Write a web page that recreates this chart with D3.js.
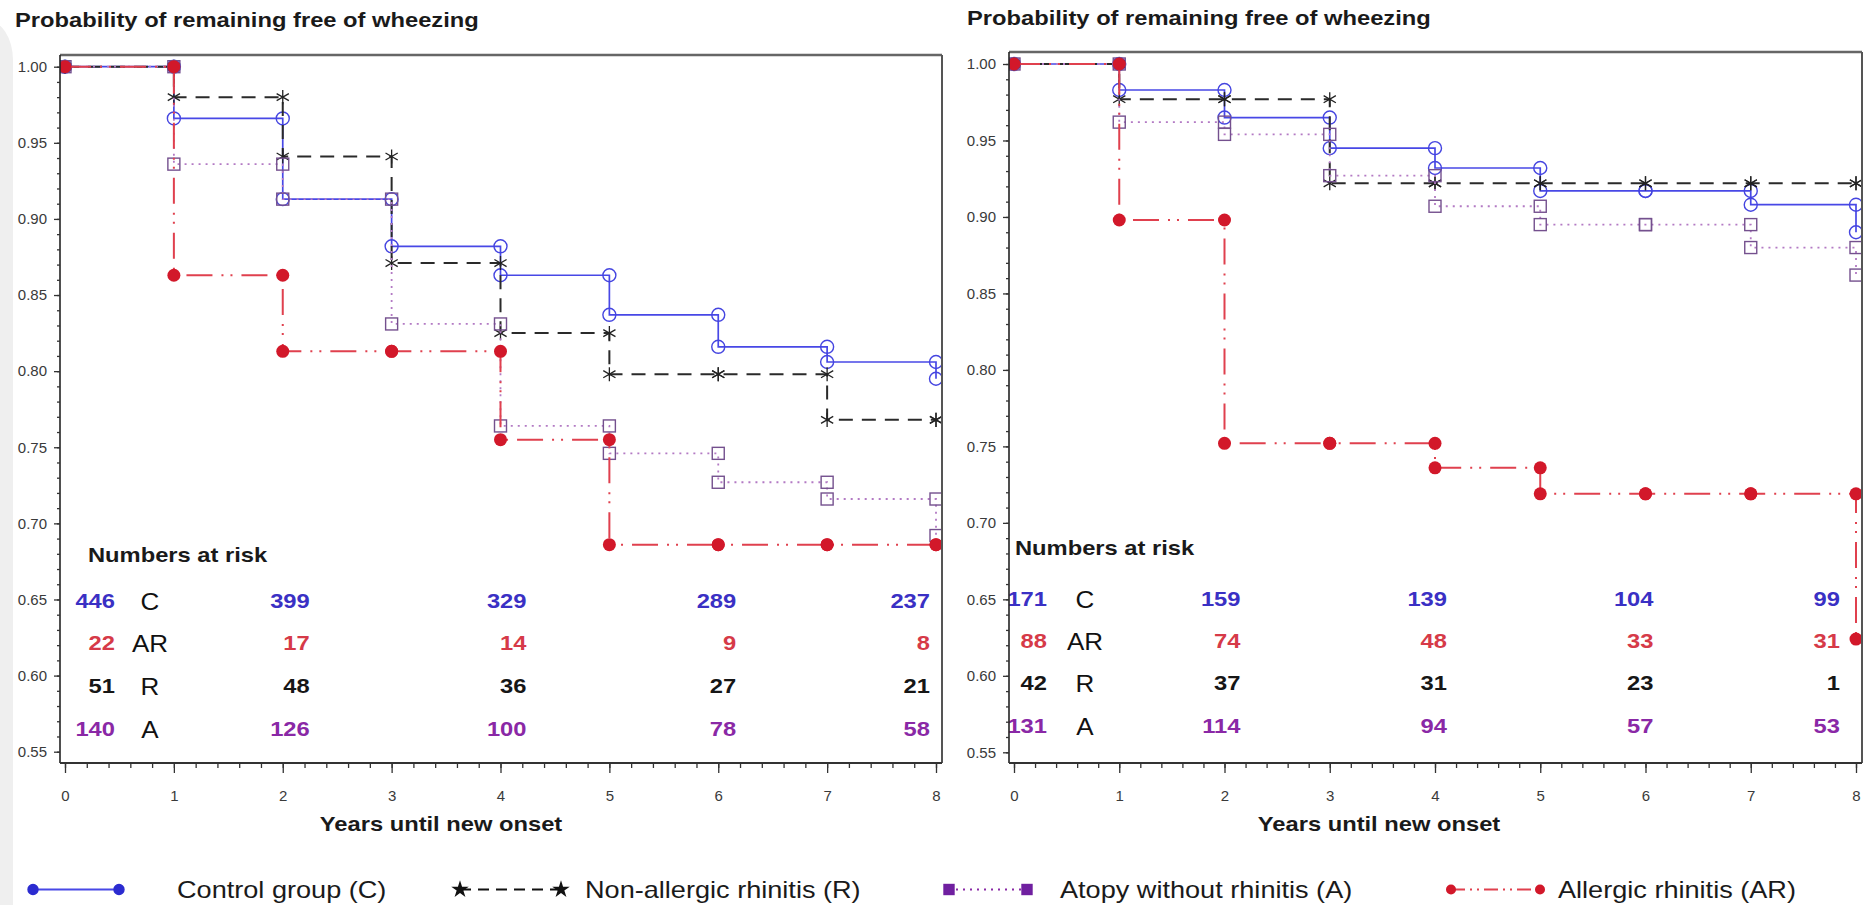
<!DOCTYPE html>
<html>
<head>
<meta charset="utf-8">
<script src="https://cdn.jsdelivr.net/npm/d3@7"></script>
<style>
  html, body { margin: 0; padding: 0; background: #fff; }
  svg { display: block; font-family: "Liberation Sans", Arial, sans-serif; }
</style>
</head>
<body>
<svg id="chart" width="1872" height="905"></svg>
<script>
// ---- data ----
const years = [0, 1, 2, 3, 4, 5, 6, 7, 8];
const yTicks = [0.55, 0.60, 0.65, 0.70, 0.75, 0.80, 0.85, 0.90, 0.95, 1.00];

// survival level on [t, t+1), last value = level after the drop at year 8
const leftC  = [1.000, 0.966, 0.913, 0.882, 0.863, 0.837, 0.816, 0.806, 0.795];
const leftR  = [1.000, 0.980, 0.941, 0.871, 0.825, 0.798, 0.798, 0.768, 0.768];
const leftA  = [1.000, 0.936, 0.913, 0.831, 0.764, 0.746, 0.727, 0.716, 0.692];
const leftAR = [1.000, 0.863, 0.813, 0.813, 0.755, 0.686, 0.686, 0.686, 0.686];

const rightC  = [1.000, 0.983, 0.965, 0.945, 0.932, 0.917, 0.917, 0.908, 0.890];
const rightR  = [1.000, 0.977, 0.977, 0.922, 0.922, 0.922, 0.922, 0.922, 0.922];
const rightA  = [1.000, 0.962, 0.954, 0.927, 0.907, 0.895, 0.895, 0.880, 0.862];
const rightAR = [1.000, 0.898, 0.752, 0.752, 0.736, 0.719, 0.719, 0.719, 0.624];

// numbers at risk (years 0, 2, 4, 6, 8)
const riskYears = [0, 2, 4, 6, 8];
const riskRows = ["C", "AR", "R", "A"];
const leftRiskC  = [446, 399, 329, 289, 237];
const leftRiskAR = [22, 17, 14, 9, 8];
const leftRiskR  = [51, 48, 36, 27, 21];
const leftRiskA  = [140, 126, 100, 78, 58];
const rightRiskC  = [171, 159, 139, 104, 99];
const rightRiskAR = [88, 74, 48, 33, 31];
const rightRiskR  = [42, 37, 31, 23, 1];
const rightRiskA  = [131, 114, 94, 57, 53];

const legendLabels = ["Control group (C)", "Non-allergic rhinitis (R)", "Atopy without rhinitis (A)", "Allergic rhinitis (AR)"];

// ---- styles ----
const style = {
  C:  { line: "#4848e6", dash: null, width: 1.7, marker: "circle", mark: "#4545e0", text: "#3a30c4" },
  R:  { line: "#2a2a2a", dash: "14 9", width: 2, marker: "asterisk", mark: "#222", text: "#161616" },
  A:  { line: "#b37ac4", dash: "2 5", width: 1.8, marker: "square", mark: "#74508e", text: "#8a28a6" },
  AR: { line: "#e0404e", dash: "26 9 2 7 2 9", width: 2, marker: "dot", mark: "#d2182a", text: "#d63a48" }
};
const drawOrder = ["C", "R", "A", "AR"];
const SX = 1.13; // the source type is a little wider than Liberation Sans

const panels = [
  {
    id: "left", x0: 65, x8: 936, yTop: 66.7, yBot: 751.7,
    frame: { l: 60, r: 942, t: 55, b: 763 },
    series: { C: leftC, R: leftR, A: leftA, AR: leftAR },
    risk: { C: leftRiskC, AR: leftRiskAR, R: leftRiskR, A: leftRiskA },
    riskOffset: [50, 27, 26, 18, -6], rowY: [608, 650, 693, 736], letterX: 150,
    riskTitle: [88, 562], title: [15, 27], xTitleX: 441
  },
  {
    id: "right", x0: 1014, x8: 1856, yTop: 64, yBot: 752.3,
    frame: { l: 1009, r: 1862, t: 52, b: 763 },
    series: { C: rightC, R: rightR, A: rightA, AR: rightAR },
    risk: { C: rightRiskC, AR: rightRiskAR, R: rightRiskR, A: rightRiskA },
    riskOffset: [33, 16, 12, 8, -16], rowY: [606, 648, 690, 733], letterX: 1085,
    riskTitle: [1015, 555], title: [967, 25], xTitleX: 1379
  }
];

const svg = d3.select("#chart");

function stretchText(g, x, y, str, o) {
  return g.append("text")
    .attr("transform", `translate(${x},${y}) scale(${SX},1)`)
    .attr("text-anchor", o.anchor || "start")
    .attr("font-size", o.size)
    .attr("font-weight", o.weight || "normal")
    .attr("fill", o.fill || "#111")
    .text(str);
}

function drawMarker(g, kind, cx, cy, s, filled) {
  if (kind === "circle") {
    g.append("circle").attr("cx", cx).attr("cy", cy).attr("r", filled ? 5 : 6.5)
      .attr("fill", filled ? s.mark : "none").attr("stroke", s.mark).attr("stroke-width", 1.4);
  } else if (kind === "square") {
    const h = filled ? 5 : 6;
    g.append("rect").attr("x", cx - h).attr("y", cy - h).attr("width", 2 * h).attr("height", 2 * h)
      .attr("fill", filled ? "#7020a0" : "none").attr("stroke", filled ? "#7020a0" : s.mark).attr("stroke-width", 1.4);
  } else if (kind === "asterisk") {
    g.append("path").attr("transform", `translate(${cx},${cy})`)
      .attr("d", d3.symbol(d3.symbolAsterisk, 140)())
      .attr("fill", "none").attr("stroke", s.mark).attr("stroke-width", 1.3);
  } else if (kind === "star") {
    g.append("path").attr("transform", `translate(${cx},${cy})`)
      .attr("d", d3.symbol(d3.symbolStar, 95)())
      .attr("fill", "#111");
  } else {
    g.append("circle").attr("cx", cx).attr("cy", cy).attr("r", filled ? 5 : 6.5)
      .attr("fill", s.mark);
  }
}

// grey page edge at the far left
svg.append("rect").attr("x", -40).attr("y", 20).attr("width", 53).attr("height", 1000)
  .attr("rx", 40).attr("fill", "#efefef");

panels.forEach(p => {
  const x = d3.scaleLinear().domain([0, 8]).range([p.x0, p.x8]);
  const y = d3.scaleLinear().domain([0.55, 1]).range([p.yBot, p.yTop]);
  const f = p.frame;
  const g = svg.append("g");

  g.append("rect").attr("x", f.l).attr("y", f.t).attr("width", f.r - f.l).attr("height", f.b - f.t).attr("fill", "#fff");

  const clipId = "clip-" + p.id;
  svg.append("clipPath").attr("id", clipId)
    .append("rect").attr("x", f.l).attr("y", f.t).attr("width", f.r - f.l).attr("height", f.b - f.t);

  // title
  stretchText(g, p.title[0], p.title[1], "Probability of remaining free of wheezing", { size: 21, weight: "bold", fill: "#1a1a1a" });

  // numbers at risk
  stretchText(g, p.riskTitle[0], p.riskTitle[1], "Numbers at risk", { size: 21, weight: "bold", fill: "#1a1a1a" });
  riskRows.forEach((k, r) => {
    stretchText(g, p.letterX, p.rowY[r] + 2, k, { size: 23, anchor: "middle", fill: "#111" });
    p.risk[k].forEach((n, j) => {
      stretchText(g, x(riskYears[j]) + p.riskOffset[j], p.rowY[r], n, { size: 21, weight: "bold", anchor: "end", fill: style[k].text });
    });
  });

  // curves
  const plot = g.append("g").attr("clip-path", `url(#${clipId})`);
  const line = d3.line().x(d => x(d[0])).y(d => y(d[1])).curve(d3.curveStepAfter);
  drawOrder.forEach(k => {
    const s = style[k];
    const vals = p.series[k];
    const pts = years.map((t, i) => [t, vals[i]]);
    plot.append("path").attr("d", line(pts))
      .attr("fill", "none").attr("stroke", s.line).attr("stroke-width", s.width)
      .attr("stroke-dasharray", s.dash);
    const marks = [];
    years.forEach((t, i) => {
      marks.push([t, vals[i]]);
      if (i < years.length - 1) marks.push([t + 1, vals[i]]);
    });
    marks.forEach(m => drawMarker(plot, s.marker, x(m[0]), y(m[1]), s, false));
  });

  // frame
  g.append("line").attr("x1", f.l).attr("x2", f.r).attr("y1", f.t).attr("y2", f.t).attr("stroke", "#666").attr("stroke-width", 2.5);
  g.append("line").attr("x1", f.r).attr("x2", f.r).attr("y1", f.t).attr("y2", f.b).attr("stroke", "#555").attr("stroke-width", 2);
  g.append("line").attr("x1", f.l).attr("x2", f.l).attr("y1", f.t).attr("y2", f.b).attr("stroke", "#222").attr("stroke-width", 1.6);
  g.append("line").attr("x1", f.l).attr("x2", f.r).attr("y1", f.b).attr("y2", f.b).attr("stroke", "#333").attr("stroke-width", 2);

  // y axis
  const yMinor = g.append("g").attr("transform", `translate(${f.l},0)`)
    .call(d3.axisLeft(y).tickValues(d3.range(55, 101).map(v => v / 100)).tickSize(3).tickFormat(""));
  const yMajor = g.append("g").attr("transform", `translate(${f.l},0)`)
    .call(d3.axisLeft(y).tickValues(yTicks).tickSize(6).tickPadding(7).tickFormat(d3.format(".2f")));
  // x axis
  const xMinor = g.append("g").attr("transform", `translate(0,${f.b})`)
    .call(d3.axisBottom(x).tickValues(d3.range(0, 41).map(v => v / 5)).tickSize(5).tickFormat(""));
  const xMajor = g.append("g").attr("transform", `translate(0,${f.b})`)
    .call(d3.axisBottom(x).tickValues(years).tickSize(10).tickPadding(17).tickFormat(d3.format("d")));
  [yMinor, yMajor, xMinor, xMajor].forEach(a => {
    a.select(".domain").remove();
    a.selectAll("line").attr("stroke", "#333").attr("stroke-width", 1.3);
    a.selectAll("text").attr("font-size", 15).attr("fill", "#3a3a3a")
      .attr("font-family", "'Liberation Sans', Arial, sans-serif");
  });

  stretchText(g, p.xTitleX, 831, "Years until new onset", { size: 21, weight: "bold", anchor: "middle", fill: "#1a1a1a" });
});

// legend
const legendItems = [
  { key: "C",  x1: 33,   x2: 119,  tx: 177,  marker: "circle" },
  { key: "R",  x1: 460,  x2: 561,  tx: 585,  marker: "star" },
  { key: "A",  x1: 949,  x2: 1027, tx: 1060, marker: "square" },
  { key: "AR", x1: 1451, x2: 1540, tx: 1558, marker: "dot" }
];
const lg = svg.append("g");
const ly = 889.5;
legendItems.forEach((it, i) => {
  const s = style[it.key];
  const legStyle = Object.assign({}, s, { mark: it.key === "C" ? "#2b2bd0" : s.mark });
  lg.append("line").attr("x1", it.x1).attr("x2", it.x2).attr("y1", ly).attr("y2", ly)
    .attr("stroke", it.key === "R" ? "#111" : (it.key === "A" ? "#8a2aa6" : s.line))
    .attr("stroke-width", 2).attr("stroke-dasharray", it.key === "R" ? "11 7" : (it.key === "AR" ? "14 5 2 5 2 5" : s.dash));
  drawMarker(lg, it.marker, it.x1, ly, legStyle, true);
  drawMarker(lg, it.marker, it.x2, ly, legStyle, true);
  stretchText(lg, it.tx, ly + 8.5, legendLabels[i], { size: 24, fill: "#1a1a1a" });
});
</script>
</body>
</html>
